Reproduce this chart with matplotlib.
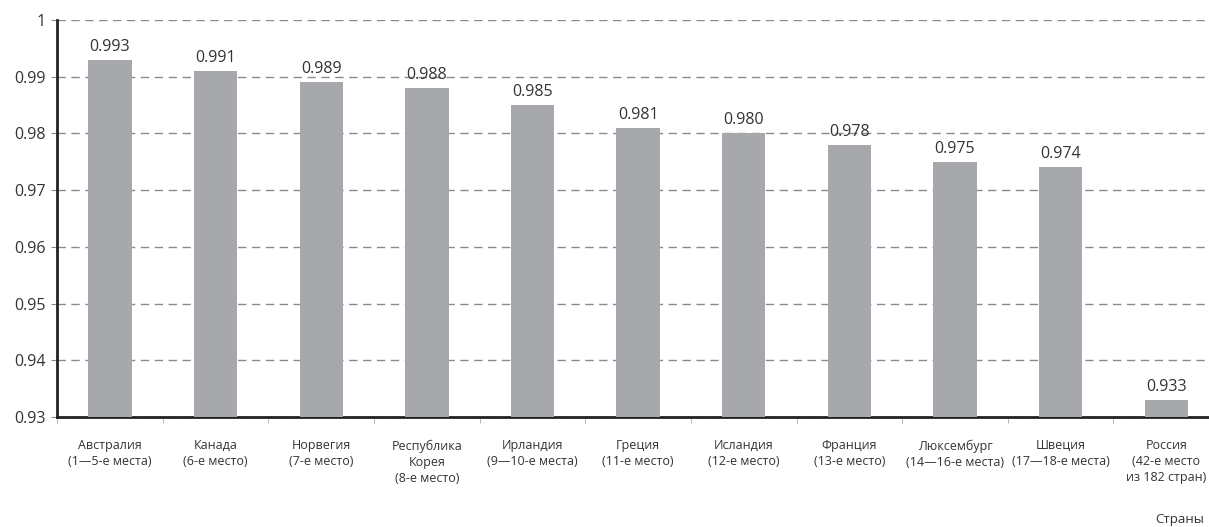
import numpy as np
import matplotlib.pyplot as plt

plt.rcParams['font.family'] = ['Open Sans', 'DejaVu Sans']

countries = ["Австралия\n(1—5-е места)", "Канада\n(6-е место)", "Норвегия\n(7-е место)",
             "Республика\nКорея\n(8-е место)", "Ирландия\n(9—10-е места)", "Греция\n(11-е место)",
             "Исландия\n(12-е место)", "Франция\n(13-е место)", "Люксембург\n(14—16-е места)",
             "Швеция\n(17—18-е места)", "Россия\n(42-е место\nиз 182 стран)"]
values = [0.993, 0.991, 0.989, 0.988, 0.985, 0.981, 0.980, 0.978, 0.975, 0.974, 0.933]
yticks = [0.93, 0.94, 0.95, 0.96, 0.97, 0.98, 0.99, 1.0]
ytick_labels = ["0.93", "0.94", "0.95", "0.96", "0.97", "0.98", "0.99", "1"]

fig = plt.figure(figsize=(12.09, 5.27), dpi=100)
ax = fig.add_axes([57.2 / 1209, 1 - 417 / 527, (1219 - 57.2) / 1209, (417 - 20) / 527])

x = np.arange(len(values))
ax.bar(x, values, width=0.41, color='#a7a8ab', zorder=3)
for xi, v in zip(x, values):
    ax.text(xi, v + 0.0009, f"{v:.3f}", ha='center', va='bottom', fontsize=11.5, color='#333333')

ax.set_xlim(-0.5, len(values) - 0.5)
ax.set_ylim(0.93, 1.0)
ax.set_yticks(yticks)
ax.set_yticklabels(ytick_labels, fontsize=11.5, color='#333333')
ax.tick_params(axis='y', length=4, color='#888888', pad=4)

ax.set_xticks(x)
ax.set_xticklabels(countries, fontsize=9, color='#333333', linespacing=1.3)
ax.tick_params(axis='x', which='major', length=0, pad=16)
ax.set_xticks(np.arange(len(values) + 1) - 0.5, minor=True)
ax.tick_params(axis='x', which='minor', length=4, color='#aaaaaa')

ax.grid(axis='y', linestyle=(0, (6, 4)), color='#8a8a8a', linewidth=1, zorder=0)
ax.spines['top'].set_visible(False)
ax.spines['right'].set_visible(False)
ax.spines['left'].set_linewidth(2)
ax.spines['bottom'].set_linewidth(2)
ax.spines['left'].set_color('#222222')
ax.spines['bottom'].set_color('#222222')

fig.text(1204 / 1209, 1 - 519 / 527, "Страны", ha='right', va='center', fontsize=9.5, color='#333333')

fig.savefig("out.png", dpi=100)
